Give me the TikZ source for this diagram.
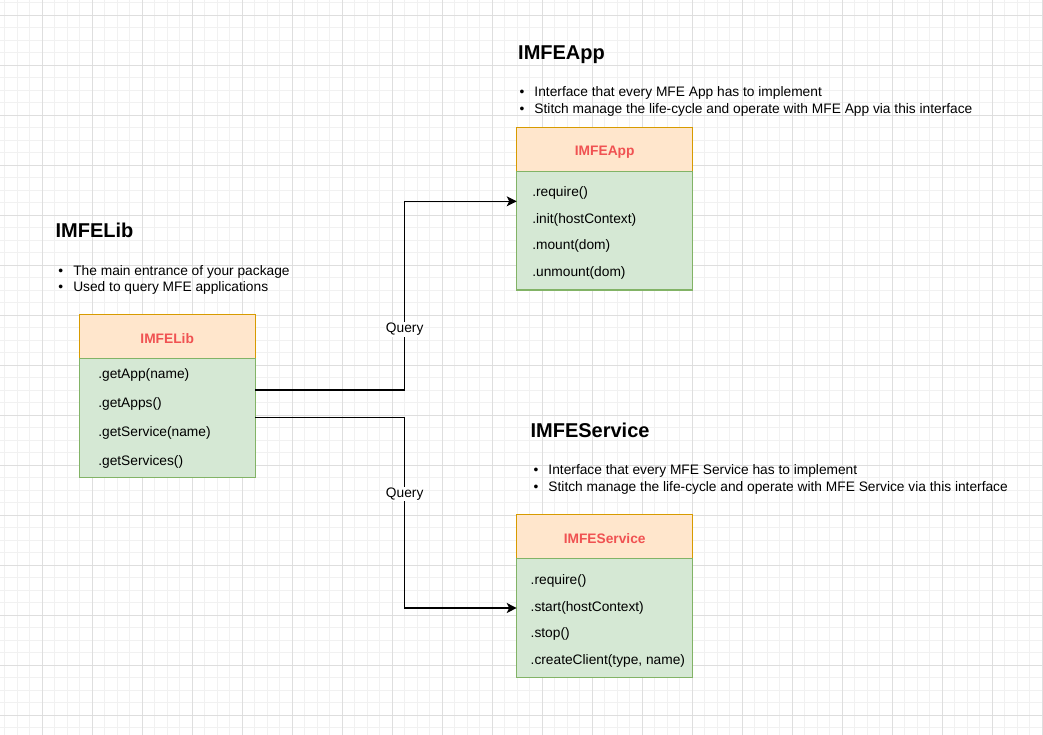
\documentclass[tikz,border=0pt]{standalone}
\usepackage{fontspec}
\setmainfont{Liberation Sans}
\usetikzlibrary{arrows.meta}
\definecolor{gridminor}{HTML}{F1F1F1}
\definecolor{gridmajor}{HTML}{DEDEDE}
\definecolor{headfill}{HTML}{FFE6CC}
\definecolor{headline}{HTML}{D79B00}
\definecolor{bodyfill}{HTML}{D5E8D4}
\definecolor{bodyline}{HTML}{82B366}
\definecolor{headtext}{HTML}{F05252}
\begin{document}
\begin{tikzpicture}[x=1pt,y=-1pt,
  clshead/.style={draw=headline, fill=headfill, line width=1.25pt, minimum width=176pt, minimum height=44pt, inner sep=0pt, outer sep=0pt, anchor=north west},
  clsbody/.style={draw=bodyline, fill=bodyfill, line width=1.25pt, minimum width=176pt, minimum height=118.6pt, inner sep=0pt, outer sep=0pt, anchor=north west},
  headlabel/.style={font=\fontsize{13.75}{16}\selectfont\bfseries, text=headtext, inner sep=0pt, anchor=base},
  member/.style={font=\fontsize{13.75}{16}\selectfont, inner sep=0pt, anchor=base west},
  ttl/.style={font=\fontsize{20}{24}\selectfont\bfseries, inner sep=0pt, anchor=base west},
  bul/.style={font=\fontsize{13.75}{16}\selectfont, inner sep=0pt, anchor=base west},
  conn/.style={line width=1.25pt, -{Stealth[length=10pt,width=10pt,inset=2.5pt]}},
  qlabel/.style={fill=white, font=\fontsize{13.75}{16}\selectfont, inner sep=1pt}]
\newcommand{\bl}[1]{\makebox[15pt][l]{\textbullet}#1}
% background and grid
\fill[white] (0,0) rectangle (1043,735);
\useasboundingbox (0,0) rectangle (1043,735);
\foreach \gx in {4.8,17.3,...,1043} \draw[gridminor, line width=1pt] (\gx,0) -- (\gx,735);
\foreach \gy in {2.8,15.3,...,735} \draw[gridminor, line width=1pt] (0,\gy) -- (1043,\gy);
\foreach \gx in {42.3,92.3,...,1043} \draw[gridmajor, line width=1pt] (\gx,0) -- (\gx,735);
\foreach \gy in {15.3,65.3,...,735} \draw[gridmajor, line width=1pt] (0,\gy) -- (1043,\gy);

% IMFELib description
\node[ttl] (libtitle) at (55.4,237.3) {IMFELib};
\node[bul] (libb1) at (58.1,275.3) {\bl{The main entrance of your package}};
\node[bul] (libb2) at (58.1,291.2) {\bl{Used to query MFE applications}};

% IMFEApp description
\node[ttl] (apptitle) at (518,59.3) {IMFEApp};
\node[bul] (appb1) at (519.3,96.7) {\bl{Interface that every MFE App has to implement}};
\node[bul] (appb2) at (519.3,113.3) {\bl{Stitch manage the life-cycle and operate with MFE App via this interface}};

% IMFEService description
\node[ttl] (svctitle) at (530.4,437.7) {IMFEService};
\node[bul] (svcb1) at (533.3,474.3) {\bl{Interface that every MFE Service has to implement}};
\node[bul] (svcb2) at (533.3,491) {\bl{Stitch manage the life-cycle and operate with MFE Service via this interface}};

% IMFELib class
\node[clshead] (libhead) at (79.3,314.7) {};
\node[clsbody] (libbody) at (79.3,358.7) {};
\node[headlabel] (libname) at (167.2,343.1) {IMFELib};
\node[member] (lib1) at (98.1,378.2) {.getApp(name)};
\node[member] (lib2) at (98.1,407.3) {.getApps()};
\node[member] (lib3) at (98.1,436.4) {.getService(name)};
\node[member] (lib4) at (98.1,465.5) {.getServices()};

% IMFEApp class
\node[clshead] (apphead) at (516.7,127.3) {};
\node[clsbody] (appbody) at (516.7,171.3) {};
\node[headlabel] (appname) at (604.7,155.7) {IMFEApp};
\node[member] (app1) at (532.1,196.6) {.require()};
\node[member] (app2) at (532.1,223.2) {.init(hostContext)};
\node[member] (app3) at (532.1,249.8) {.mount(dom)};
\node[member] (app4) at (532.1,276.4) {.unmount(dom)};

% IMFEService class
\node[clshead] (svchead) at (516.7,514.7) {};
\node[clsbody] (svcbody) at (516.7,558.7) {};
\node[headlabel] (svcname) at (604.7,543.1) {IMFEService};
\node[member] (svc1) at (530.5,584.9) {.require()};
\node[member] (svc2) at (530.5,611.3) {.start(hostContext)};
\node[member] (svc3) at (530.5,637.7) {.stop()};
\node[member] (svc4) at (530.5,664.1) {.createClient(type, name)};

% connectors
\coordinate (mid) at (404.7,0);
\coordinate (s1) at ([yshift=-31.3pt]libbody.north east);
\coordinate (e1) at ([yshift=-30pt]appbody.north west);
\coordinate (s2) at ([yshift=-59pt]libbody.north east);
\coordinate (e2) at ([yshift=-49.3pt]svcbody.north west);
\draw[conn] (s1) -- (s1 -| mid) |- (e1);
\draw[conn] (s2) -- (s2 -| mid) |- (e2);
\node[qlabel] (q1) at (404.7,329.3) {Query};
\node[qlabel] (q2) at (404.7,494) {Query};
\end{tikzpicture}
\end{document}
